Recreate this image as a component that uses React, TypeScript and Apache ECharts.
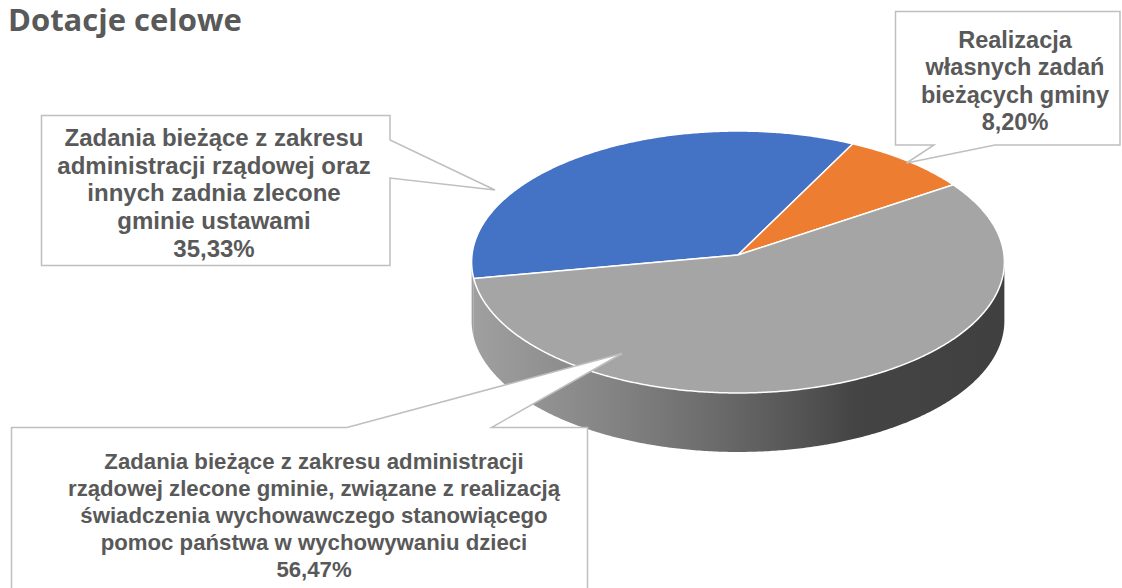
import React, { useEffect, useRef } from "react";
import * as echarts from "echarts";

// ---- data ----
const TITLE = "Dotacje celowe";
const CATEGORIES = [
  "Zadania bieżące z zakresu\nadministracji rządowej oraz\ninnych zadnia zlecone\ngminie ustawami",
  "Realizacja\nwłasnych zadań\nbieżących gminy",
  "Zadania bieżące z zakresu administracji\nrządowej zlecone gminie, związane z realizacją\nświadczenia wychowawczego stanowiącego\npomoc państwa w wychowywaniu dzieci",
];
const VALUES = [35.33, 8.2, 56.47];
const TOP_COLORS = ["#4472C4", "#ED7D31", "#A5A5A5"];

// ---- pie geometry (layout) ----
const CX = 738;
const CY = 255;
const RX = 266;
const RY = 130.6;
const PERSP = 0.0534;
const DEPTH = 59;
const START_DEG = 190.3;

function rim(deg: number, dy = 0): number[] {
  const p = (deg * Math.PI) / 180;
  const d = 1 + PERSP * Math.sin(p);
  return [CX + (RX * Math.cos(p)) / d, CY - (RY * Math.sin(p)) / d + dy];
}

function arcPts(from: number, to: number, dy = 0): number[][] {
  const n = Math.max(2, Math.ceil(Math.abs(to - from) / 0.5));
  const out: number[][] = [];
  for (let k = 0; k <= n; k++) out.push(rim(from + ((to - from) * k) / n, dy));
  return out;
}

const SIL = (Math.asin(PERSP) * 180) / Math.PI; // silhouette offset
const FRONT_LO = 180 + SIL;
const FRONT_HI = 360 - SIL;

const sideGrad = () =>
  new echarts.graphic.LinearGradient(
    472,
    0,
    1004,
    0,
    [
      { offset: 0, color: "#A0A0A0" },
      { offset: 0.25, color: "#858585" },
      { offset: 0.45, color: "#6C6C6C" },
      { offset: 0.6, color: "#575757" },
      { offset: 0.72, color: "#444444" },
      { offset: 1, color: "#404040" },
    ],
    true
  );

// ---- label boxes (layout) ----
const BOXES = [
  {
    points: [
      [41.5, 115.5],
      [390, 115.5],
      [390, 140],
      [495, 190],
      [390, 178],
      [390, 265.5],
      [41.5, 265.5],
    ],
    tx: 214,
    ty: 123.5,
    fontSize: 24,
    lineHeight: 27.75,
  },
  {
    points: [
      [895.5, 11.5],
      [1120, 11.5],
      [1120, 145],
      [995, 145],
      [906.5, 163],
      [934, 145],
      [895.5, 145],
    ],
    tx: 1015,
    ty: 26.5,
    fontSize: 23.5,
    lineHeight: 27.2,
  },
  {
    points: [
      [11.5, 427.5],
      [347, 427.5],
      [622, 353.5],
      [491.5, 427.5],
      [587.5, 427.5],
      [587.5, 620],
      [11.5, 620],
    ],
    tx: 314,
    ty: 447.5,
    fontSize: 22.2,
    lineHeight: 27,
  },
];

const fmtPct = (v: number) => v.toFixed(2).replace(".", ",") + "%";

export default function App() {
  const ref = useRef<HTMLDivElement>(null);

  useEffect(() => {
    if (!ref.current) return;
    const chart = echarts.init(ref.current, null, { renderer: "svg" });
    const total = VALUES.reduce((s, v) => s + v, 0);

    const renderItem = (params: any, api: any) => {
      const i = params.dataIndex;
      let before = 0;
      for (let j = 0; j < i; j++) before += VALUES[j];
      const val = api.value(0);
      const a0 = START_DEG - (before / total) * 360;
      const a1 = START_DEG - ((before + val) / total) * 360;
      const children: any[] = [];
      // side walls (front visible part)
      const lo = Math.min(a0, a1);
      const hi = Math.max(a0, a1);
      for (let m = -2; m <= 2; m++) {
        const fl = FRONT_LO + 360 * m;
        const fh = FRONT_HI + 360 * m;
        const s = Math.max(lo, fl);
        const e = Math.min(hi, fh);
        if (e > s) {
          const pts = arcPts(s, e).concat(arcPts(e, s, DEPTH));
          children.push({
            type: "polygon",
            shape: { points: pts },
            style: { fill: sideGrad(), stroke: null },
          });
        }
      }
      // top face
      const top = [[CX, CY]].concat(arcPts(a0, a1));
      children.push({
        type: "polygon",
        shape: { points: top },
        style: { fill: TOP_COLORS[i], stroke: "#FFFFFF", lineWidth: 1.5 },
        z2: 10,
      });
      return { type: "group", children };
    };

    const graphics: any[] = [
      {
        type: "text",
        x: 8,
        y: 19,
        z: 20,
        style: {
          text: TITLE,
          fill: "#595959",
          fontFamily: "Open Sans",
          fontSize: 31,
          fontWeight: "bold",
          lineHeight: 34,
          align: "left",
          verticalAlign: "middle",
        },
      },
    ];
    BOXES.forEach((b, i) => {
      graphics.push({
        type: "polygon",
        z: 20,
        shape: { points: b.points },
        style: { fill: "#FFFFFF", stroke: "#BFBFBF", lineWidth: 1.5 },
      });
      graphics.push({
        type: "text",
        x: b.tx,
        y: b.ty,
        z: 21,
        style: {
          text: CATEGORIES[i] + "\n" + fmtPct(VALUES[i]),
          fill: "#595959",
          fontFamily: "Liberation Sans",
          fontSize: b.fontSize,
          fontWeight: "bold",
          lineHeight: b.lineHeight,
          align: "center",
          verticalAlign: "top",
        },
      });
    });

    chart.setOption({
      animation: false,
      backgroundColor: "#FFFFFF",
      series: [
        {
          type: "custom",
          coordinateSystem: "none",
          renderItem,
          data: VALUES,
          silent: true,
        },
      ],
      graphic: graphics,
    });
    return () => chart.dispose();
  }, []);

  return (
    <div
      ref={ref}
      style={{ position: "fixed", left: 0, top: 0, width: 1122, height: 588 }}
    />
  );
}
